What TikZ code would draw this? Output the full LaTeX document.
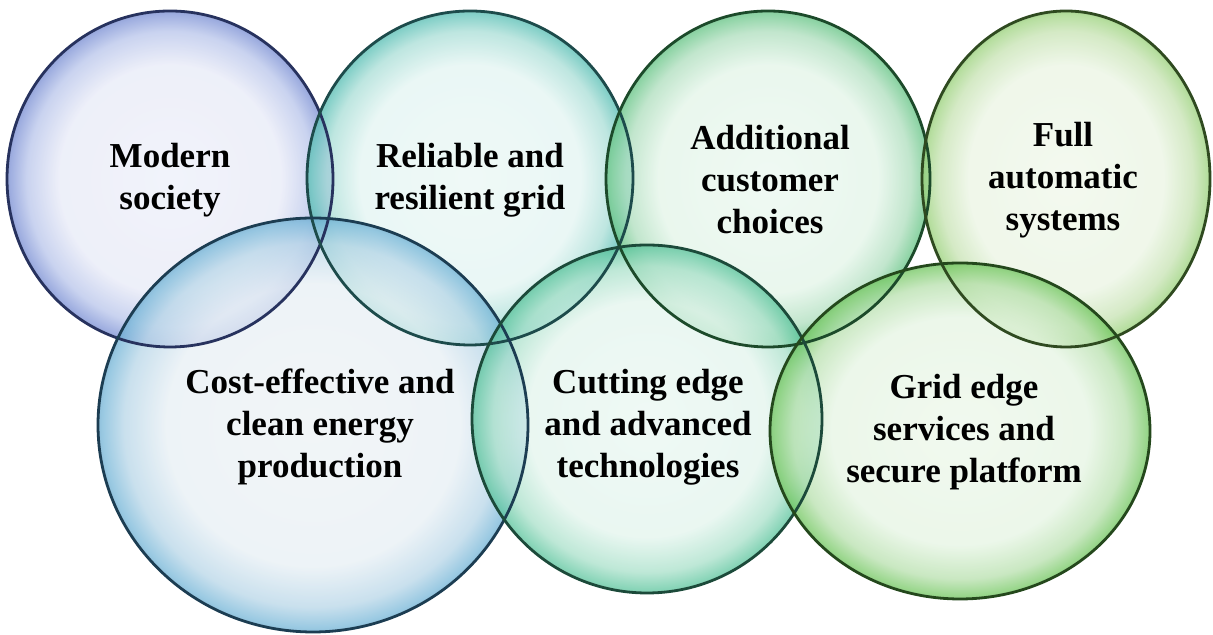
\documentclass[tikz,border=0pt]{standalone}
\usepackage{fontspec}
\setmainfont{Liberation Serif}
\usetikzlibrary{shapes.geometric}
\pgfdeclareradialshading{bubA}{\pgfpoint{0bp}{0bp}}{rgb(0bp)=(0.93,0.94,0.98); rgb(17bp)=(0.91,0.92,0.97); rgb(22bp)=(0.72,0.77,0.92); rgb(24.5bp)=(0.50,0.58,0.84); rgb(25bp)=(0.45,0.53,0.80); rgb(50bp)=(0.45,0.53,0.80)}
\pgfdeclareradialshading{bubB}{\pgfpoint{0bp}{0bp}}{rgb(0bp)=(0.92,0.97,0.96); rgb(17bp)=(0.89,0.96,0.95); rgb(22bp)=(0.66,0.87,0.84); rgb(24.5bp)=(0.37,0.76,0.72); rgb(25bp)=(0.33,0.72,0.68); rgb(50bp)=(0.33,0.72,0.68)}
\pgfdeclareradialshading{bubC}{\pgfpoint{0bp}{0bp}}{rgb(0bp)=(0.92,0.97,0.94); rgb(17bp)=(0.89,0.96,0.91); rgb(22bp)=(0.68,0.87,0.74); rgb(24.5bp)=(0.42,0.78,0.54); rgb(25bp)=(0.38,0.74,0.50); rgb(50bp)=(0.38,0.74,0.50)}
\pgfdeclareradialshading{bubD}{\pgfpoint{0bp}{0bp}}{rgb(0bp)=(0.94,0.97,0.92); rgb(17bp)=(0.92,0.96,0.89); rgb(22bp)=(0.78,0.89,0.70); rgb(24.5bp)=(0.62,0.83,0.50); rgb(25bp)=(0.56,0.78,0.44); rgb(50bp)=(0.56,0.78,0.44)}
\pgfdeclareradialshading{bubE}{\pgfpoint{0bp}{0bp}}{rgb(0bp)=(0.93,0.95,0.96); rgb(17bp)=(0.91,0.94,0.96); rgb(22bp)=(0.72,0.84,0.91); rgb(24.5bp)=(0.47,0.72,0.85); rgb(25bp)=(0.42,0.67,0.81); rgb(50bp)=(0.42,0.67,0.81)}
\pgfdeclareradialshading{bubF}{\pgfpoint{0bp}{0bp}}{rgb(0bp)=(0.92,0.97,0.95); rgb(17bp)=(0.89,0.96,0.93); rgb(22bp)=(0.66,0.88,0.79); rgb(24.5bp)=(0.38,0.78,0.63); rgb(25bp)=(0.34,0.74,0.59); rgb(50bp)=(0.34,0.74,0.59)}
\pgfdeclareradialshading{bubG}{\pgfpoint{0bp}{0bp}}{rgb(0bp)=(0.93,0.97,0.92); rgb(17bp)=(0.90,0.96,0.89); rgb(22bp)=(0.72,0.88,0.68); rgb(24.5bp)=(0.47,0.79,0.40); rgb(25bp)=(0.42,0.74,0.36); rgb(50bp)=(0.42,0.74,0.36)}
\definecolor{olA}{HTML}{27325E}
\definecolor{olB}{HTML}{1D4B4B}
\definecolor{olC}{HTML}{1C4A2A}
\definecolor{olD}{HTML}{2F4A20}
\definecolor{olE}{HTML}{1C3D52}
\definecolor{olF}{HTML}{1C4A3A}
\definecolor{olG}{HTML}{24481C}
\tikzset{
  bubble/.style={ellipse, inner sep=0pt, fill opacity=0.75, draw=none},
  rim/.style={draw=#1, line width=1.4pt},
  lbl/.style={font=\fontsize{17.5}{21}\selectfont\bfseries, align=center, text=black, inner sep=0pt}
}
\begin{document}
\begin{tikzpicture}[x=0.5pt, y=0.5pt]
\path[fill=white, use as bounding box] (0,0) rectangle (1213,635);
% bubbles (fills)
\node[bubble, shading=bubA, minimum width=163pt, minimum height=168pt] (c1) at (170,456) {};
\node[bubble, shading=bubB, minimum width=163pt, minimum height=167pt] (c2) at (470,457) {};
\node[bubble, shading=bubC, minimum width=162pt, minimum height=168pt] (c3) at (768,456) {};
\node[bubble, shading=bubD, minimum width=144pt, minimum height=168pt] (c4) at (1066,456) {};
\node[bubble, shading=bubE, minimum width=215pt, minimum height=207pt] (c5) at (313,210) {};
\node[bubble, shading=bubF, minimum width=175pt, minimum height=174pt] (c6) at (647,216) {};
\node[bubble, shading=bubG, minimum width=190pt, minimum height=168pt] (c7) at (960,204) {};
% outlines
\draw[rim=olA] (c1.center) ellipse [x radius=163, y radius=168];
\draw[rim=olB] (c2.center) ellipse [x radius=163, y radius=167];
\draw[rim=olC] (c3.center) ellipse [x radius=162, y radius=168];
\draw[rim=olD] (c4.center) ellipse [x radius=144, y radius=168];
\draw[rim=olE] (c5.center) ellipse [x radius=215, y radius=207];
\draw[rim=olF] (c6.center) ellipse [x radius=175, y radius=174];
\draw[rim=olG] (c7.center) ellipse [x radius=190, y radius=168];
% labels
\node[lbl] (t1) at (170,455) {Modern\\society};
\node[lbl] (t2) at (470,455) {Reliable and\\resilient grid};
\node[lbl] (t3) at (770,455) {Additional\\customer\\choices};
\node[lbl] (t4) at (1063,455) {Full\\automatic\\systems};
\node[lbl] (t5) at (320,208) {Cost-effective and\\clean energy\\production};
\node[lbl] (t6) at (648,208) {Cutting edge\\and advanced\\technologies};
\node[lbl] (t7) at (964,203) {Grid edge\\services and\\secure platform};
\end{tikzpicture}
\end{document}
